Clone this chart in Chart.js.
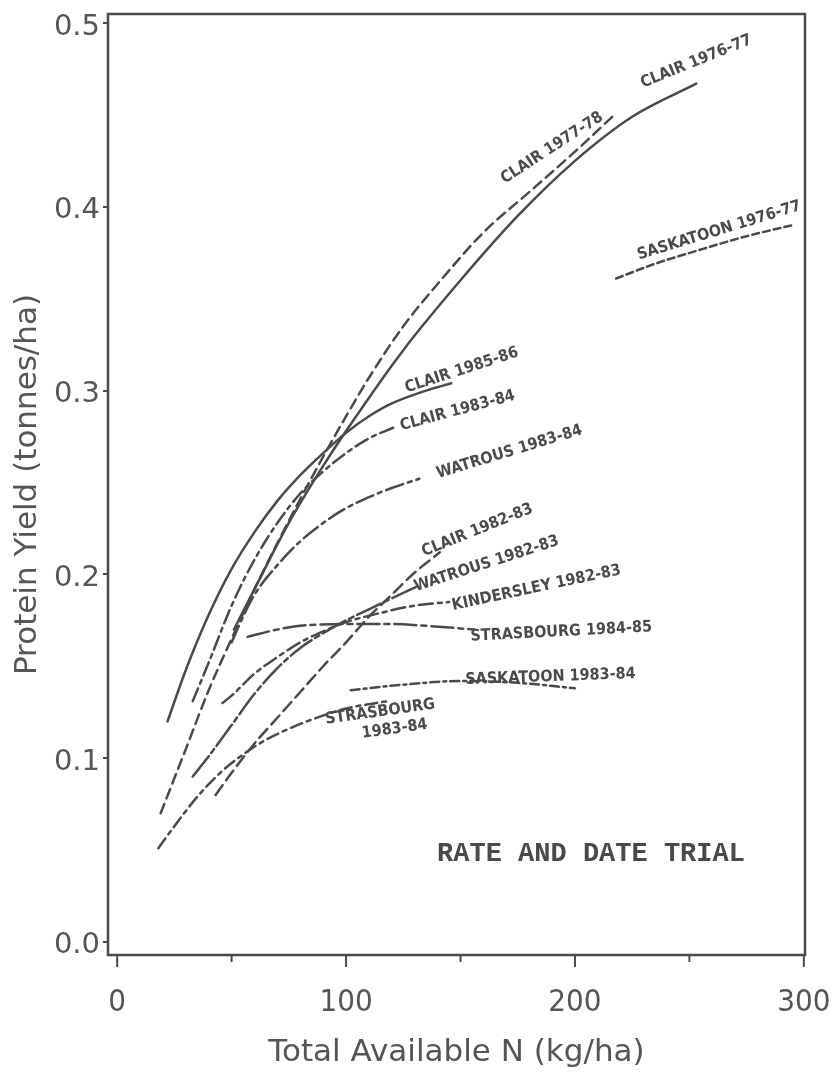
<!DOCTYPE html>
<html>
<head>
<meta charset="utf-8">
<title>Protein yield vs total available N</title>
<script src="https://cdn.jsdelivr.net/npm/chart.js@4.4.1/dist/chart.umd.min.js"></script>
<style>
  html, body { margin: 0; padding: 0; background: #fff; }
  #wrap { width: 832px; height: 1075px; }
</style>
</head>
<body>
<div id="wrap"><canvas id="yieldChart" width="832" height="1075"></canvas></div>
<script>
// fitted response curves: total available N (kg/ha) -> protein yield (tonnes/ha)
const clair7677N = [51, 60, 75, 90, 100, 125, 150, 175, 200, 225, 253];
const clair7677Y = [0.170, 0.192, 0.228, 0.259, 0.278, 0.322, 0.360, 0.395, 0.425, 0.449, 0.467];

const clair7778N = [19, 30, 40, 50, 60, 70, 80, 90, 100, 110, 125, 140, 160, 180, 200, 218];
const clair7778Y = [0.070, 0.105, 0.137, 0.165, 0.192, 0.217, 0.241, 0.264, 0.286, 0.307, 0.335, 0.358, 0.386, 0.408, 0.430, 0.451];

const clair8586N = [22, 30, 40, 50, 60, 70, 80, 90, 100, 110, 120, 135, 146];
const clair8586Y = [0.120, 0.148, 0.178, 0.203, 0.223, 0.240, 0.254, 0.266, 0.277, 0.286, 0.293, 0.300, 0.304];

const clair8384N = [33, 40, 50, 60, 70, 80, 90, 100, 110, 121];
const clair8384Y = [0.131, 0.152, 0.183, 0.208, 0.228, 0.244, 0.256, 0.266, 0.274, 0.280];

const watrous8384N = [50, 55, 60, 70, 80, 90, 100, 110, 120, 132];
const watrous8384Y = [0.163, 0.177, 0.189, 0.205, 0.218, 0.228, 0.236, 0.242, 0.247, 0.252];

const clair8283N = [43, 50, 60, 70, 80, 90, 100, 110, 120, 130, 141];
const clair8283Y = [0.080, 0.092, 0.108, 0.122, 0.136, 0.150, 0.163, 0.177, 0.189, 0.201, 0.212];

const watrous8283N = [33, 40, 50, 60, 70, 80, 90, 100, 110, 120, 132];
const watrous8283Y = [0.090, 0.101, 0.118, 0.135, 0.149, 0.160, 0.168, 0.175, 0.181, 0.187, 0.194];

const kindersley8283N = [46, 50, 60, 70, 80, 90, 100, 115, 130, 145];
const kindersley8283Y = [0.130, 0.134, 0.146, 0.155, 0.163, 0.169, 0.174, 0.179, 0.183, 0.185];

const strasbourg8485N = [57, 70, 80, 100, 120, 135, 156];
const strasbourg8485Y = [0.166, 0.170, 0.172, 0.173, 0.173, 0.172, 0.170];

const saskatoon8384N = [102, 125, 150, 175, 200];
const saskatoon8384Y = [0.137, 0.140, 0.142, 0.141, 0.138];

const strasbourg8384N = [18, 25, 35, 45, 55, 65, 75, 85, 100, 118];
const strasbourg8384Y = [0.051, 0.063, 0.079, 0.092, 0.102, 0.110, 0.116, 0.121, 0.127, 0.131];

const saskatoon7677N = [218, 235, 253, 275, 295];
const saskatoon7677Y = [0.361, 0.369, 0.376, 0.384, 0.390];

const xTicks = [0, 100, 200, 300];
const xMinorTicks = [50, 150, 250];
const yTicks = [0, 0.1, 0.2, 0.3, 0.4, 0.5];

const INK = '#4a4a4a';
const LABEL_INK = '#555555';
const TITLE_FONT = '"DejaVu Sans", sans-serif';

// one entry per curve, with the pen pattern it was drawn with
const series = [
    { name: 'CLAIR 1976-77', n: clair7677N, y: clair7677Y, dash: [] },
    { name: 'CLAIR 1977-78', n: clair7778N, y: clair7778Y, dash: [10, 6] },
    { name: 'CLAIR 1985-86', n: clair8586N, y: clair8586Y, dash: [] },
    { name: 'CLAIR 1983-84', n: clair8384N, y: clair8384Y, dash: [14, 5, 4, 5] },
    { name: 'WATROUS 1983-84', n: watrous8384N, y: watrous8384Y, dash: [18, 5, 4, 5] },
    { name: 'CLAIR 1982-83', n: clair8283N, y: clair8283Y, dash: [12, 6] },
    { name: 'WATROUS 1982-83', n: watrous8283N, y: watrous8283Y, dash: [26, 4, 5, 4] },
    { name: 'KINDERSLEY 1982-83', n: kindersley8283N, y: kindersley8283Y, dash: [14, 5, 4, 5] },
    { name: 'STRASBOURG 1984-85', n: strasbourg8485N, y: strasbourg8485Y, dash: [22, 5, 5, 5] },
    { name: 'SASKATOON 1983-84', n: saskatoon8384N, y: saskatoon8384Y, dash: [9, 4, 3, 4] },
    { name: 'STRASBOURG 1983-84', n: strasbourg8384N, y: strasbourg8384Y, dash: [12, 5, 4, 5] },
    { name: 'SASKATOON 1976-77', n: saskatoon7677N, y: saskatoon7677Y, dash: [7, 4] }
];

// hand-lettered names written next to the curve ends (anchor in data units)
const curveNotes = [
    { lines: ['CLAIR 1977-78'], n: 190, y: 0.432, angle: -33 },
    { lines: ['CLAIR 1976-77'], n: 253, y: 0.479, angle: -22 },
    { lines: ['SASKATOON 1976-77'], n: 263, y: 0.387, angle: -17 },
    { lines: ['CLAIR 1985-86'], n: 150.5, y: 0.311, angle: -18 },
    { lines: ['CLAIR 1983-84'], n: 148.7, y: 0.289, angle: -15 },
    { lines: ['WATROUS 1983-84'], n: 171.4, y: 0.2666, angle: -17 },
    { lines: ['CLAIR 1982-83'], n: 157.4, y: 0.224, angle: -22 },
    { lines: ['WATROUS 1982-83'], n: 161.4, y: 0.2057, angle: -18 },
    { lines: ['KINDERSLEY 1982-83'], n: 183.2, y: 0.1926, angle: -12 },
    { lines: ['STRASBOURG 1984-85'], n: 194, y: 0.1687, angle: -3 },
    { lines: ['SASKATOON 1983-84'], n: 189.3, y: 0.1442, angle: -2 },
    { lines: ['STRASBOURG', '1983-84'], n: 115.5, y: 0.120, angle: -8 }
];

const datasets = series.map(s => ({
    label: s.name,
    data: s.n.map((n, i) => ({ x: n, y: s.y[i] })),
    showLine: true,
    borderColor: INK,
    borderWidth: 2.5,
    borderDash: s.dash,
    borderCapStyle: 'round',
    pointRadius: 0,
    cubicInterpolationMode: 'monotone',
    fill: false
}));

const framePlugin = {
    id: 'frame',
    afterDraw(chart) {
        const { ctx, chartArea: a, scales: { x } } = chart;
        ctx.save();
        ctx.strokeStyle = INK;
        ctx.lineWidth = 2.5;
        ctx.strokeRect(a.left, a.top, a.right - a.left, a.bottom - a.top);
        // tick marks under the N axis, long at every 100, short between
        ctx.lineWidth = 2;
        xTicks.forEach(v => {
            const px = x.getPixelForValue(v);
            ctx.beginPath(); ctx.moveTo(px, a.bottom); ctx.lineTo(px, a.bottom + 12); ctx.stroke();
        });
        xMinorTicks.forEach(v => {
            const px = x.getPixelForValue(v);
            ctx.beginPath(); ctx.moveTo(px, a.bottom); ctx.lineTo(px, a.bottom + 7); ctx.stroke();
        });
        ctx.restore();
    }
};

const notesPlugin = {
    id: 'curveNotes',
    afterDatasetsDraw(chart) {
        const { ctx, scales: { x, y } } = chart;
        ctx.save();
        ctx.fillStyle = INK;
        ctx.textAlign = 'center';
        ctx.textBaseline = 'middle';
        ctx.font = 'bold 16px "DejaVu Sans Condensed", "DejaVu Sans", sans-serif';
        curveNotes.forEach(note => {
            ctx.save();
            ctx.translate(x.getPixelForValue(note.n), y.getPixelForValue(note.y));
            ctx.rotate(note.angle * Math.PI / 180);
            note.lines.forEach((line, i) => {
                ctx.fillText(line, i * 12, (i - (note.lines.length - 1) / 2) * 19);
            });
            ctx.restore();
        });
        ctx.font = 'bold 27px "Liberation Mono", monospace';
        ctx.fillText('RATE AND DATE TRIAL', x.getPixelForValue(207), y.getPixelForValue(0.048));
        ctx.restore();
    }
};

new Chart(document.getElementById('yieldChart'), {
    type: 'scatter',
    data: { datasets: datasets },
    options: {
        responsive: false,
        animation: false,
        layout: { padding: { top: 14, right: 27, left: 0, bottom: 0 } },
        plugins: {
            legend: { display: false },
            tooltip: { enabled: false }
        },
        scales: {
            x: {
                type: 'linear',
                min: -4,
                max: 300.5,
                afterBuildTicks: scale => { scale.ticks = xTicks.map(v => ({ value: v })); },
                afterFit: scale => {
                    scale.height = 120;
                    scale.paddingLeft = 0;
                    scale.paddingRight = 0;
                },
                border: { display: false },
                grid: { display: false, drawTicks: false },
                ticks: {
                    color: LABEL_INK,
                    padding: 29,
                    maxRotation: 0,
                    font: { family: '"DejaVu Sans Condensed", "DejaVu Sans", sans-serif', size: 31 }
                },
                title: {
                    display: true,
                    text: 'Total Available N (kg/ha)',
                    color: LABEL_INK,
                    padding: { top: 10, bottom: 3 },
                    font: { family: TITLE_FONT, size: 31 }
                }
            },
            y: {
                type: 'linear',
                min: -0.0071,
                max: 0.5049,
                afterBuildTicks: scale => { scale.ticks = yTicks.map(v => ({ value: v })); },
                afterFit: scale => {
                    scale.width = 108;
                    scale.paddingTop = 0;
                    scale.paddingBottom = 0;
                },
                border: { display: false },
                grid: { drawOnChartArea: false, drawTicks: true, tickLength: 5, color: INK, lineWidth: 2 },
                ticks: {
                    color: LABEL_INK,
                    padding: 3,
                    labelOffset: 4,
                    font: { family: '"DejaVu Sans", sans-serif', size: 29 },
                    callback: v => v.toFixed(1)
                },
                title: {
                    display: true,
                    text: 'Protein Yield (tonnes/ha)',
                    color: LABEL_INK,
                    padding: { top: 9, bottom: 0 },
                    font: { family: TITLE_FONT, size: 31 }
                }
            }
        }
    },
    plugins: [framePlugin, notesPlugin]
});
</script>
</body>
</html>
